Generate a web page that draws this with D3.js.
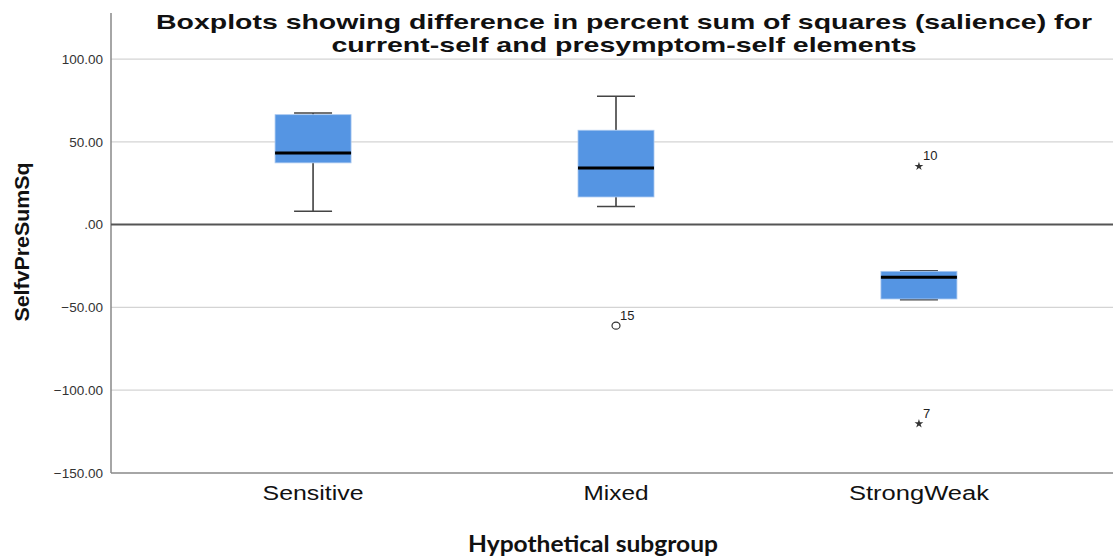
<!DOCTYPE html>
<html><head><meta charset="utf-8">
<script src="https://cdn.jsdelivr.net/npm/d3@7"></script>
<style>body{margin:0;background:#fff;} svg{display:block;}</style>
</head><body>
<script>
const categories = ["Sensitive", "Mixed", "StrongWeak"];
const lowerWhisker = [8.0, 11.0, -45.3];
const q1 = [37.3, 16.7, -44.9];
const median = [43.3, 34.2, -31.8];
const q3 = [66.4, 57.0, -28.2];
const upperWhisker = [67.4, 77.5, -27.8];
const outlierCats = ["Mixed", "StrongWeak", "StrongWeak"];
const outlierValues = [-61.0, 35.2, -120.2];
const outlierLabels = ["15", "10", "7"];
const outlierTypes = ["circle", "star", "star"];
const yTicks = [100, 50, 0, -50, -100, -150];
const titleLines = ["Boxplots showing difference in percent sum of squares (salience) for", "current-self and presymptom-self elements"];

(function(){
const W = 1113, H = 559;
const svg = d3.select("body").append("svg").attr("width", W).attr("height", H);
const left = 111, plotTop = 13, bottom = 473;
const x = d3.scalePoint().domain(categories).range([left, 1121]).padding(0.667);
const y = d3.scaleLinear().domain([-150, 127.8]).range([bottom, plotTop]);
const arial = "Liberation Sans, Arial, sans-serif";

// gridlines
svg.append("g").selectAll("line").data(yTicks.filter(d => d !== 0 && d !== -150)).join("line")
  .attr("x1", left).attr("x2", W).attr("y1", d => y(d)).attr("y2", d => y(d))
  .attr("stroke", "#d4d4d4").attr("stroke-width", 1.2);

// y axis
const yAxis = d3.axisLeft(y).tickValues(yTicks).tickSize(0).tickPadding(8)
  .tickFormat(d => d === 0 ? ".00" : d3.format(".2f")(d));
const ga = svg.append("g").attr("transform", `translate(${left},0)`).call(yAxis);
ga.select(".domain").remove();
ga.selectAll("text").attr("font-family", arial).attr("font-size", 13.5).attr("fill", "#333");
svg.append("line").attr("x1", left).attr("x2", left).attr("y1", plotTop).attr("y2", bottom).attr("stroke", "#888").attr("stroke-width", 1.5);
svg.append("line").attr("x1", left).attr("x2", W).attr("y1", bottom).attr("y2", bottom).attr("stroke", "#888").attr("stroke-width", 1.5);
svg.append("line").attr("x1", left).attr("x2", W).attr("y1", y(0)).attr("y2", y(0)).attr("stroke", "#555").attr("stroke-width", 2);

// boxes
const boxW = 76, capW = 38;
const data = categories.map((c, i) => ({c, lw: lowerWhisker[i], q1: q1[i], med: median[i], q3: q3[i], uw: upperWhisker[i]}));
const g = svg.append("g");
data.forEach(d => {
  const cx = x(d.c);
  g.append("line").attr("x1", cx).attr("x2", cx).attr("y1", y(d.q3)).attr("y2", y(d.uw)).attr("stroke", "#333").attr("stroke-width", 1.5);
  g.append("line").attr("x1", cx).attr("x2", cx).attr("y1", y(d.q1)).attr("y2", y(d.lw)).attr("stroke", "#333").attr("stroke-width", 1.5);
  g.append("line").attr("x1", cx - capW/2).attr("x2", cx + capW/2).attr("y1", y(d.uw)).attr("y2", y(d.uw)).attr("stroke", "#444").attr("stroke-width", 1.5);
  g.append("line").attr("x1", cx - capW/2).attr("x2", cx + capW/2).attr("y1", y(d.lw)).attr("y2", y(d.lw)).attr("stroke", "#444").attr("stroke-width", 1.5);
  g.append("rect").attr("x", cx - boxW/2).attr("width", boxW).attr("y", y(d.q3)).attr("height", y(d.q1) - y(d.q3))
    .attr("fill", "#5595e3").attr("stroke", "#a9c8f0").attr("stroke-width", 0.8);
  g.append("line").attr("x1", cx - boxW/2).attr("x2", cx + boxW/2).attr("y1", y(d.med)).attr("y2", y(d.med)).attr("stroke", "#000").attr("stroke-width", 3);
});

// outliers
outlierValues.forEach((v, i) => {
  const cx = x(outlierCats[i]), cy = y(v);
  if (outlierTypes[i] === "circle") {
    g.append("ellipse").attr("cx", cx).attr("cy", cy).attr("rx", 4).attr("ry", 3.5).attr("fill", "none").attr("stroke", "#333").attr("stroke-width", 1.2);
  } else {
    g.append("path").attr("d", d3.symbol(d3.symbolStar, 24)()).attr("transform", `translate(${cx},${cy})`).attr("fill", "#333");
  }
  g.append("text").attr("x", cx + 4).attr("y", cy - 6).text(outlierLabels[i])
    .attr("font-family", arial).attr("font-size", 13).attr("fill", "#222");
});

// x labels
const xLabelLen = {"Sensitive": 101, "Mixed": 65, "StrongWeak": 140};
svg.append("g").selectAll("text").data(categories).join("text")
  .attr("x", d => x(d)).attr("y", 500).attr("text-anchor", "middle")
  .attr("textLength", d => xLabelLen[d]).attr("lengthAdjust", "spacingAndGlyphs")
  .attr("font-family", arial).attr("font-size", 20).attr("fill", "#111").text(d => d);

// axis titles
svg.append("text").attr("x", 593).attr("y", 552).attr("text-anchor", "middle")
  .attr("textLength", 250).attr("lengthAdjust", "spacingAndGlyphs")
  .attr("font-family", "Lato, sans-serif").attr("font-weight", "bold").attr("font-size", 22).attr("fill", "#111")
  .text("Hypothetical subgroup");
svg.append("text").attr("transform", "translate(29,242) rotate(-90)").attr("text-anchor", "middle")
  .attr("textLength", 159).attr("lengthAdjust", "spacingAndGlyphs")
  .attr("font-family", arial).attr("font-weight", "bold").attr("font-size", 20).attr("fill", "#111")
  .text("SelfvPreSumSq");

// title
const titleLen = [936, 585];
svg.append("g").selectAll("text").data(titleLines).join("text")
  .attr("x", 624).attr("y", (d, i) => 29 + i * 23).attr("text-anchor", "middle")
  .attr("textLength", (d, i) => titleLen[i]).attr("lengthAdjust", "spacingAndGlyphs")
  .attr("font-family", arial).attr("font-weight", "bold").attr("font-size", 20.5).attr("fill", "#111")
  .text(d => d);
})();
</script>
</body></html>
